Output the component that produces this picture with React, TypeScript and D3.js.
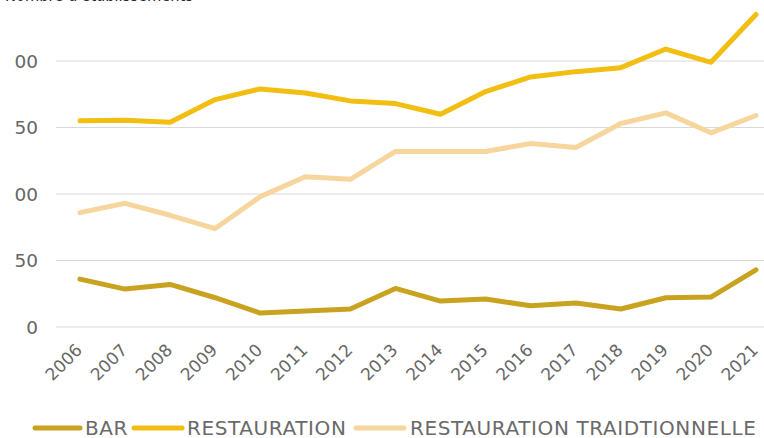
import React from "react";
import * as d3 from "d3";

const years = ["2006","2007","2008","2009","2010","2011","2012","2013","2014","2015","2016","2017","2018","2019","2020","2021"];
const barValues = [36, 28.5, 32, 22, 10.5, 12, 13.5, 29, 19.5, 21, 16, 18, 13.5, 22, 22.5, 43];
const restaurationValues = [155, 155.5, 154, 171, 179, 176, 170, 168, 160, 177, 188, 192, 195, 209, 199, 235];
const tradValues = [86, 93, 84, 74, 98, 113, 111, 132, 132, 132, 138, 135, 153, 161, 146, 159];
const yTicks = [0, 50, 100, 150, 200];
const seriesNames = ["BAR", "RESTAURATION", "RESTAURATION TRAIDTIONNELLE"];
const titleText = "Nombre d'établissements";

const W = 764, H = 438;
const colors = ["#C9A21F", "#F2BE12", "#F7D69E"];
const font = "'DejaVu Sans', sans-serif";

export default function App() {
  const x = d3.scalePoint<string>().domain(years).range([80, 756]);
  const y = d3.scaleLinear().domain([0, 200]).range([327, 61]);
  const line = d3.line<number>().x((_, i) => x(years[i]) as number).y(d => y(d));
  const series = [barValues, restaurationValues, tradValues];
  const legend = [
    { lx1: 35, lx2: 80, tx: 85 },
    { lx1: 134, lx2: 182, tx: 187 },
    { lx1: 356, lx2: 404, tx: 410 },
  ];
  return (
    <div style={{ position: "absolute", left: 0, top: 0 }}>
      <svg width={W} height={H} style={{ display: "block", background: "#fff" }}>
        <defs>
          <clipPath id="ylab">
            <rect x={14.5} y={0} width={60} height={H} />
          </clipPath>
        </defs>
        <text x={5} y={0.5} fontFamily={font} fontSize={20} fill="#222" textLength={188} lengthAdjust="spacingAndGlyphs">{titleText}</text>
        {yTicks.map(t => (
          <g key={t}>
            <line x1={56} x2={W} y1={y(t)} y2={y(t)} stroke="#d9d9d9" strokeWidth={1} />
            <text x={38} y={y(t)} dy="0.36em" textAnchor="end" clipPath="url(#ylab)" fontFamily={font} fontSize={18.5} fill="#666">{t}</text>
          </g>
        ))}
        {years.map(yr => (
          <text key={yr} transform={`translate(${(x(yr) as number) - 1},${347}) rotate(-45)`} textAnchor="end" dy="0.35em" fontFamily={font} fontSize={17} fill="#666">{yr}</text>
        ))}
        {series.map((s, i) => (
          <path key={i} d={line(s) || ""} fill="none" stroke={colors[i]} strokeWidth={5} strokeLinejoin="round" strokeLinecap="round" />
        ))}
        {seriesNames.map((n, i) => (
          <g key={n}>
            <line x1={legend[i].lx1} x2={legend[i].lx2} y1={428} y2={428} stroke={colors[i]} strokeWidth={5} strokeLinecap="round" />
            <text x={legend[i].tx} y={428} dy="0.36em" fontFamily={font} fontSize={20} letterSpacing={0.6} fill="#6a6a6a">{n}</text>
          </g>
        ))}
      </svg>
    </div>
  );
}
